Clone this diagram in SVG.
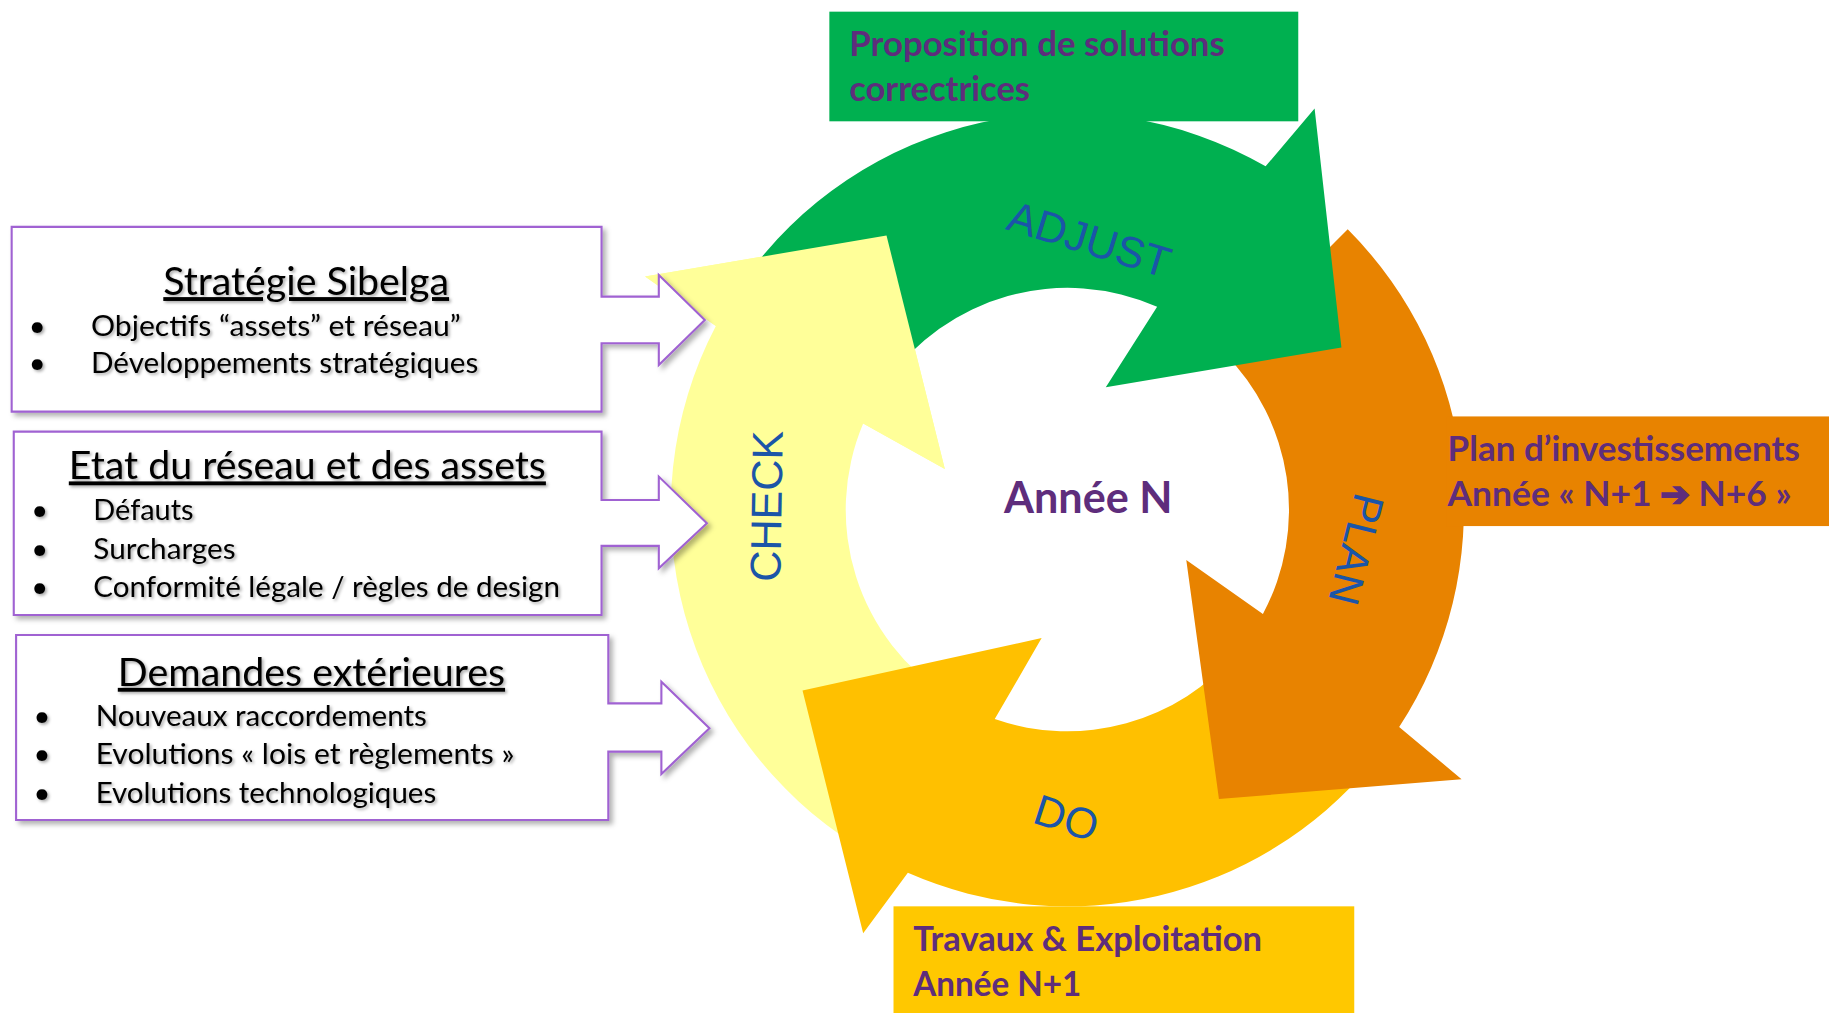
<svg xmlns="http://www.w3.org/2000/svg" width="1829" height="1013" viewBox="0 0 1829 1013">
<defs>
  <filter id="boxShadow" x="-5%" y="-8%" width="115%" height="125%">
    <feDropShadow dx="3" dy="3" stdDeviation="2.5" flood-color="#000" flood-opacity="0.3"/>
  </filter>
  <filter id="txtShadow" x="-5%" y="-20%" width="115%" height="150%">
    <feDropShadow dx="1.5" dy="1.5" stdDeviation="1.2" flood-color="#000" flood-opacity="0.35"/>
  </filter>
</defs>
<style>
  .box{fill:#ffffff;stroke:#A062D2;stroke-width:1.8;}
  .bt{font-family:Lato,"Liberation Sans",sans-serif;fill:#000000;}
  .ttl{font-size:33px;text-decoration:underline;text-anchor:middle;}
  .itm{font-size:25px;}
  .lbl{font-family:"Liberation Sans",Arial,sans-serif;fill:#1B55A8;font-size:37px;text-anchor:middle;}
  .out{font-family:Lato,"Liberation Sans",sans-serif;font-weight:bold;fill:#5E2D7C;font-size:29px;}
  .yel{fill:#FFFF99;}
  .grn{fill:#00B050;}
  .org{fill:#E88300;}
  .gld{fill:#FFC000;}
</style>
<rect width="1829" height="1013" fill="#ffffff"/>
<g transform="scale(1.166454)">

  <!-- Cycle arrows -->
  <g id="check">
    <path class="yel" d="M 734.8 725.3 A 340 340 0 0 1 613.7 279.5 L 553 237 L 760 202 L 810 402 L 740 363.1 A 190 190 0 0 0 814.3 598.1 Z"/>
    <text class="lbl" font-size="36" transform="translate(657,434) rotate(-89)" y="13">CHECK</text>
  </g>
  <g id="do">
    <path class="gld" d="M 1175.5 655.5 A 340 340 0 0 1 778.3 748.3 L 740 800 L 688 592 L 893 547 L 852.8 616.5 A 190 190 0 0 0 1060.5 559.1 Z"/>
    <text class="lbl" font-size="34" transform="translate(914,702) rotate(18)" y="12">DO</text>
  </g>
  <g id="plan">
    <path class="org" d="M 1155.4 196.6 A 340 340 0 0 1 1199.5 623.2 L 1253 668 L 1045 685 L 1017 480 L 1082.7 526.4 A 190 190 0 0 0 1049.4 302.6 Z"/>
    <text class="lbl" transform="translate(1163,471) rotate(104)" y="13">PLAN</text>
  </g>
  <g id="adjust">
    <path class="grn" d="M 636.5 242.0 A 340 340 0 0 1 1085 142.6 L 1127 93 L 1150 298 L 948 332 L 992 263 A 190 190 0 0 0 759.4 328.0 Z"/>
    <text class="lbl" transform="translate(934,205) rotate(17)" y="13">ADJUST</text>
  </g>
  <g id="check-head">
    <path class="yel" d="M 613.7 279.5 L 553 237 L 760 202 L 810 402 L 740 363.1 Z"/>
  </g>

  <g id="center">
    <text x="933" y="440" font-family="Lato,'Liberation Sans',sans-serif" font-weight="bold" font-size="37" fill="#5E2D7C" text-anchor="middle">Année N</text>
  </g>

  <!-- Output boxes -->
  <g id="box-adjust">
    <rect x="711" y="10" width="402" height="94" fill="#00B050"/>
    <text class="out" x="728" y="48" textLength="322" lengthAdjust="spacingAndGlyphs">Proposition de solutions</text>
    <text class="out" x="728" y="87" textLength="155" lengthAdjust="spacingAndGlyphs">correctrices</text>
  </g>
  <g id="box-plan">
    <rect x="1240" y="357" width="330" height="94" fill="#E88300"/>
    <text class="out" x="1241" y="395" textLength="302" lengthAdjust="spacingAndGlyphs">Plan d’investissements</text>
    <text class="out" x="1241" y="434" textLength="295" lengthAdjust="spacingAndGlyphs">Année « N+1 <tspan font-family="'DejaVu Sans',sans-serif" stroke="#5E2D7C" stroke-width="1.6">➔</tspan> N+6 »</text>
  </g>
  <g id="box-do">
    <rect x="766" y="777" width="395" height="95" fill="#FFC800"/>
    <text class="out" x="783" y="815" textLength="299" lengthAdjust="spacingAndGlyphs">Travaux &amp; Exploitation</text>
    <text class="out" x="783" y="854" textLength="144" lengthAdjust="spacingAndGlyphs">Année N+1</text>
  </g>

  <!-- Input boxes -->
  <g id="box-strategie">
    <path class="box" filter="url(#boxShadow)" d="M 10 194.5 H 515.7 V 254.3 H 564.8 V 235.8 L 604.2 274.3 L 564.8 312.9 V 294.3 H 515.7 V 352.9 H 10 Z"/>
    <g class="bt" filter="url(#txtShadow)">
      <text class="ttl" x="262.5" y="253" textLength="245" lengthAdjust="spacingAndGlyphs">Stratégie Sibelga</text>
      <text class="itm" x="32" y="288" text-anchor="middle">•</text>
      <text class="itm" x="78" y="288" textLength="317" lengthAdjust="spacingAndGlyphs">Objectifs “assets” et réseau”</text>
      <text class="itm" x="32" y="320" text-anchor="middle">•</text>
      <text class="itm" x="78" y="320" textLength="332" lengthAdjust="spacingAndGlyphs">Développements stratégiques</text>
    </g>
  </g>
  <g id="box-etat">
    <path class="box" filter="url(#boxShadow)" d="M 11.8 370 H 515.7 V 428.7 H 564.8 V 408.6 L 606 448.6 L 564.8 487.2 V 468 H 515.7 V 527.2 H 11.8 Z"/>
    <g class="bt" filter="url(#txtShadow)">
      <text class="ttl" x="263.5" y="411" textLength="409" lengthAdjust="spacingAndGlyphs">Etat du réseau et des assets</text>
      <text class="itm" x="34" y="446" text-anchor="middle">•</text>
      <text class="itm" x="80" y="446" textLength="86" lengthAdjust="spacingAndGlyphs">Défauts</text>
      <text class="itm" x="34" y="479" text-anchor="middle">•</text>
      <text class="itm" x="80" y="479" textLength="122" lengthAdjust="spacingAndGlyphs">Surcharges</text>
      <text class="itm" x="34" y="512" text-anchor="middle">•</text>
      <text class="itm" x="80" y="512" textLength="400" lengthAdjust="spacingAndGlyphs">Conformité légale / règles de design</text>
    </g>
  </g>
  <g id="box-demandes">
    <path class="box" filter="url(#boxShadow)" d="M 13.8 544.4 H 521.5 V 603 H 567 V 584.4 L 608.2 624.4 L 567 663.5 V 644.4 H 521.5 V 703 H 13.8 Z"/>
    <g class="bt" filter="url(#txtShadow)">
      <text class="ttl" x="267" y="588" textLength="332" lengthAdjust="spacingAndGlyphs">Demandes extérieures</text>
      <text class="itm" x="36" y="622" text-anchor="middle">•</text>
      <text class="itm" x="82" y="622" textLength="284" lengthAdjust="spacingAndGlyphs">Nouveaux raccordements</text>
      <text class="itm" x="36" y="655" text-anchor="middle">•</text>
      <text class="itm" x="82" y="655" textLength="359" lengthAdjust="spacingAndGlyphs">Evolutions « lois et règlements »</text>
      <text class="itm" x="36" y="688" text-anchor="middle">•</text>
      <text class="itm" x="82" y="688" textLength="292" lengthAdjust="spacingAndGlyphs">Evolutions technologiques</text>
    </g>
  </g>

  <g id="connectors"/>
</g>
</svg>
